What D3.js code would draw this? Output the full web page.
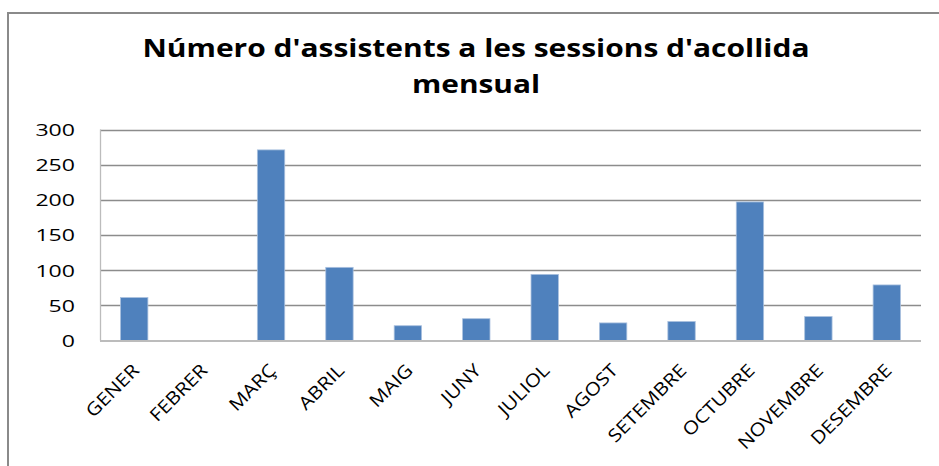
<!DOCTYPE html>
<html>
<head>
<meta charset="utf-8">
<script src="https://cdn.jsdelivr.net/npm/d3@7"></script>
<style>
  html, body { margin: 0; padding: 0; background: #fff; }
  svg { display: block; }
</style>
</head>
<body>
<svg width="939" height="466"></svg>
<script>
const months = ["GENER", "FEBRER", "MARÇ", "ABRIL", "MAIG", "JUNY", "JULIOL",
  "AGOST", "SETEMBRE", "OCTUBRE", "NOVEMBRE", "DESEMBRE"];
const attendees = [61, 0, 271, 104, 21, 31, 94, 25, 27, 197, 34, 79];
const yTicks = [0, 50, 100, 150, 200, 250, 300];
const titleLines = ["Número d'assistents a les sessions d'acollida", "mensual"];

const svg = d3.select("svg");
const plot = { left: 100, right: 921, top: 129.5, bottom: 340.5 };

// chart frame
svg.append("rect")
  .attr("x", 8).attr("y", 13)
  .attr("width", 960).attr("height", 480)
  .attr("fill", "none")
  .attr("stroke", "#8a8a8a")
  .attr("stroke-width", 2);

const x = d3.scaleBand()
  .domain(months)
  .range([plot.left, plot.right])
  .paddingInner(0.6)
  .paddingOuter(0.3);

const y = d3.scaleLinear()
  .domain([0, 300])
  .range([plot.bottom, plot.top]);

// title
svg.append("text")
  .attr("x", 476).attr("y", 57)
  .attr("text-anchor", "middle")
  .attr("font-family", "Open Sans, sans-serif")
  .attr("font-weight", "bold")
  .attr("font-size", 25)
  .attr("textLength", 667)
  .attr("lengthAdjust", "spacingAndGlyphs")
  .attr("fill", "#000")
  .text(titleLines[0]);

svg.append("text")
  .attr("x", 476).attr("y", 93)
  .attr("text-anchor", "middle")
  .attr("font-family", "Open Sans, sans-serif")
  .attr("font-weight", "bold")
  .attr("font-size", 25)
  .attr("textLength", 128)
  .attr("lengthAdjust", "spacingAndGlyphs")
  .attr("fill", "#000")
  .text(titleLines[1]);

// gridlines
svg.append("g")
  .selectAll("line")
  .data(yTicks.filter(d => d > 0))
  .join("line")
  .attr("x1", plot.left).attr("x2", plot.right)
  .attr("y1", d => Math.round(y(d)) + 0.5)
  .attr("y2", d => Math.round(y(d)) + 0.5)
  .attr("stroke", "#8c8c8c")
  .attr("stroke-width", 1.3);

// left border of plot area
svg.append("line")
  .attr("x1", plot.left + 0.5).attr("x2", plot.left + 0.5)
  .attr("y1", plot.top).attr("y2", plot.bottom)
  .attr("stroke", "#bcbcbc")
  .attr("stroke-width", 1.3);

// y axis labels
const yAxis = svg.append("g")
  .attr("transform", `translate(${plot.left - 25},0)`)
  .call(d3.axisLeft(y).tickValues(yTicks).tickSize(0).tickPadding(0));
yAxis.select(".domain").remove();
yAxis.selectAll("text")
  .attr("font-family", "Open Sans, sans-serif")
  .attr("font-size", 17)
  .attr("fill", "#000")
  .attr("dy", "0.35em")
  .attr("textLength", d => String(d).length * 13.2)
  .attr("lengthAdjust", "spacingAndGlyphs");

// bars
svg.append("g")
  .selectAll("rect")
  .data(months.map((m, i) => ({ month: m, value: attendees[i] })))
  .join("rect")
  .attr("x", d => x(d.month))
  .attr("y", d => y(d.value))
  .attr("width", x.bandwidth())
  .attr("height", d => plot.bottom - y(d.value))
  .attr("fill", "#4f81bd")
  .attr("stroke", d => d.value > 0 ? "#a9c0de" : "none")
  .attr("stroke-width", 0.8);

// x axis
const xAxis = svg.append("g")
  .attr("transform", `translate(0,${plot.bottom})`)
  .call(d3.axisBottom(x).tickSize(0).tickPadding(0));
xAxis.select(".domain")
  .attr("d", `M${plot.left},0.5H${plot.right}`)
  .attr("stroke", "#bcbcbc")
  .attr("stroke-width", 2);
xAxis.selectAll("text")
  .attr("font-family", "Open Sans, sans-serif")
  .attr("font-size", 18)
  .attr("fill", "#000")
  .attr("text-anchor", "end")
  .attr("dy", 0)
  .attr("transform", "translate(6,31) rotate(-45) scale(1.15,1)");
</script>
</body>
</html>
